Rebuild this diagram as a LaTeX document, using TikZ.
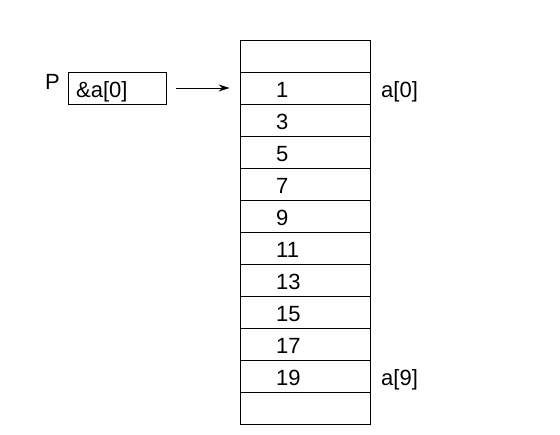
\documentclass[tikz,border=0pt]{standalone}
\usepackage{fontspec}
\setmainfont{Liberation Sans}
\usetikzlibrary{arrows.meta}
\begin{document}
\begin{tikzpicture}[x=1pt,y=-1pt,
  cellbox/.style={draw,line width=0.9pt,minimum width=130pt,minimum height=32pt,inner sep=0pt},
  txt/.style={font=\fontsize{22}{22}\selectfont,inner sep=0pt,anchor=base west},
  conn/.style={line width=0.9pt,-{Stealth[length=11pt,width=7pt]}}]
\useasboundingbox (0,0) rectangle (560,435);
\foreach \i in {0,...,11}{
  \node[cellbox] (c\i) at (305,{56+32*\i}) {};
}
\foreach \v [count=\i] in {1,3,5,7,9,11,13,15,17,19}{
  \node[txt] (n\i) at (276,{97.5+32*(\i-1)}) {\v};
}
\node[txt] (l0) at (381,98) {a[0]};
\node[txt] (l9) at (381,386) {a[9]};
\node[draw,line width=0.9pt,minimum width=98pt,minimum height=32pt,inner sep=0pt] (pbox) at (117,88) {};
\node[txt] (ptxt) at (76,98) {\&a[0]};
\node[txt] (plab) at (45,90) {P};
\draw[conn,shorten <=10pt,shorten >=10pt] (pbox.east) -- (c1.west);
\end{tikzpicture}
\end{document}
